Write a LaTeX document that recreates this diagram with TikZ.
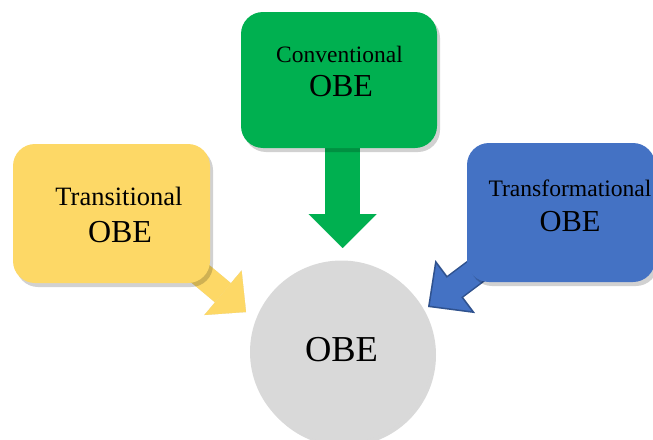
\documentclass[tikz,border=0pt]{standalone}
\usepackage{fontspec}
\setmainfont{Liberation Serif}
\usetikzlibrary{arrows.meta, shadows, backgrounds}
\definecolor{ConvGreen}{RGB}{0,176,80}
\definecolor{TransYellow}{RGB}{253,216,102}
\definecolor{FormBlue}{RGB}{68,114,196}
\definecolor{FormEdge}{RGB}{47,82,143}
\definecolor{CoreGray}{RGB}{217,217,217}
\definecolor{ArrowShade}{RGB}{225,225,225}

\begin{document}
\begin{tikzpicture}[x=1pt,y=-1pt,
    box/.style={rounded corners=22pt, inner sep=0pt, minimum height=139pt,
      drop shadow={shadow xshift=3pt, shadow yshift=-4pt, opacity=0.18, fill=black}},
    fat/.style n args={3}{line width=#1, -{Triangle[width=#2, length=#3, line width=0.01pt]}},
    word/.style={anchor=base, inner sep=0pt}]
  \useasboundingbox (0,0) rectangle (653,439);

  \node[box, fill=ConvGreen, minimum width=196pt, minimum height=136pt] (conv) at (339,80) {};
  \node[box, fill=TransYellow, minimum width=197pt] (trans) at (111.5,213.5) {};
  \node[box, fill=FormBlue, minimum width=188pt] (form) at (561,212.5) {};
  \node[circle, fill=CoreGray, minimum size=183pt, inner sep=0pt,
    drop shadow={shadow xshift=3pt, shadow yshift=-3pt, opacity=0.15, fill=black}] (core) at (341.5,352) {};

  \coordinate (convstart) at ([xshift=3.5pt,yshift=10pt]conv.south);
  \coordinate (convtip) at (342.5,248);
  \coordinate (transstart) at ([xshift=-25pt,yshift=22pt]trans.south east);
  \coordinate (transtip) at (246,312);
  \coordinate (formstart) at ([xshift=25pt,yshift=23pt]form.south west);
  \coordinate (formtip) at (428,307);

  % arrows go under the boxes
  \begin{scope}[on background layer]
    \begin{scope}[xshift=3pt,yshift=-3pt]
      \draw[fat={25pt}{58pt}{30pt}, ArrowShade] (transstart) -- (transtip);
      \draw[fat={27pt}{66pt}{34pt}, ArrowShade] (formstart) -- (formtip);
    \end{scope}
    \draw[fat={35pt}{68pt}{34pt}, ConvGreen] (convstart) -- (convtip);
    \draw[fat={25pt}{58pt}{30pt}, TransYellow] (transstart) -- (transtip);
    \draw[line width=27pt, FormEdge,
      -{Triangle[width=66pt, length=34pt, line width=1.5pt, fill=FormBlue]}] (formstart) -- (formtip);
    \draw[line width=24pt, FormBlue, shorten >=31pt] (formstart) -- (formtip);
  \end{scope}

  \node[word, font=\fontsize{23.5}{24}\selectfont] (convname) at (339.5,62) {Conventional};
  \node[word, font=\fontsize{32}{32}\selectfont] (convobe) at (341,96) {OBE};
  \node[word, font=\fontsize{26.5}{27}\selectfont] (transname) at (119,205) {Transitional};
  \node[word, font=\fontsize{32}{32}\selectfont] (transobe) at (120,242) {OBE};
  \node[word, font=\fontsize{23.6}{24}\selectfont] (formname) at (570,196) {Transformational};
  \node[word, font=\fontsize{30.5}{31}\selectfont] (formobe) at (570,231) {OBE};
  \node[word, font=\fontsize{36.5}{37}\selectfont] (coreobe) at (341.5,361) {OBE};
\end{tikzpicture}
\end{document}
